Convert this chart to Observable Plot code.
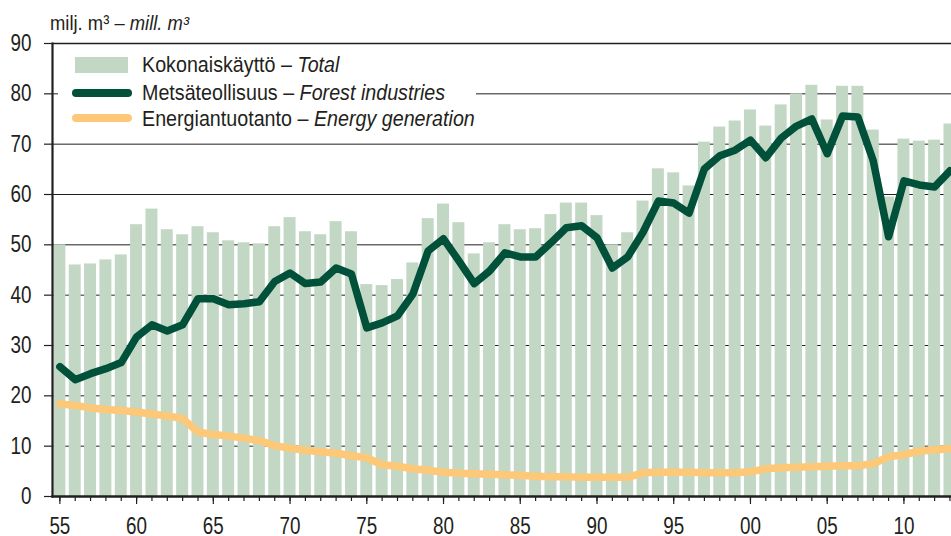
<!DOCTYPE html>
<html>
<head>
<meta charset="utf-8">
<script src="https://cdn.jsdelivr.net/npm/d3@7"></script>
<script src="https://cdn.jsdelivr.net/npm/@observablehq/plot@0.6"></script>
<style>
  body { margin: 0; background: #fff; }
  #wrap { position: relative; width: 951px; height: 536px; overflow: hidden;
          font-family: "Liberation Sans", Arial, sans-serif; color: #231f20; }
  #chart { position: absolute; left: 0; top: 0; }
  #title { position: absolute; left: 50px; top: 13px; font-size: 20px; line-height: 20px; white-space: nowrap;
           transform: scaleX(0.92); transform-origin: 0 50%; }
  #legendbox { position: absolute; left: 58px; top: 50px; width: 418px; height: 86px; background: #fff; }
  .sw { position: absolute; }
  .lt { position: absolute; left: 142px; font-size: 22px; line-height: 22px; white-space: nowrap;
        transform: scaleX(0.895); transform-origin: 0 50%; }
</style>
</head>
<body>
<div id="wrap">
  <div id="chart"></div>
  <div id="title"></div>
  <div id="legendbox"></div>
  <div id="legend"></div>
</div>
<script>
// ---- data ----
const years = [1955,1956,1957,1958,1959,1960,1961,1962,1963,1964,1965,1966,1967,1968,1969,1970,
  1971,1972,1973,1974,1975,1976,1977,1978,1979,1980,1981,1982,1983,1984,1985,1986,1987,1988,1989,1990,
  1991,1992,1993,1994,1995,1996,1997,1998,1999,2000,2001,2002,2003,2004,2005,2006,2007,2008,2009,2010,
  2011,2012,2013];
const total = [50.0,46.0,46.2,47.0,48.0,54.0,57.1,53.0,52.0,53.6,52.4,50.8,50.4,50.2,53.6,55.4,
  52.6,52.0,54.6,52.6,42.1,41.9,43.1,46.4,55.2,58.1,54.4,48.2,50.4,54.0,53.0,53.2,56.0,58.3,58.3,55.8,
  50.0,52.4,58.7,65.1,64.3,61.7,70.4,73.4,74.6,76.8,73.6,77.8,80.0,81.7,74.8,81.5,81.5,72.8,59.5,71.0,
  70.6,70.8,74.0];
const forest = [25.8,23.2,24.4,25.4,26.6,31.7,34.1,32.9,34.1,39.3,39.3,38.1,38.3,38.7,42.7,44.4,
  42.3,42.6,45.4,44.2,33.5,34.5,35.9,40.2,48.8,51.2,46.8,42.3,44.8,48.4,47.6,47.6,50.4,53.4,53.8,51.4,
  45.4,47.6,52.5,58.7,58.3,56.3,65.1,67.7,68.8,70.8,67.3,71.2,73.6,75.0,68.1,75.6,75.4,66.7,51.6,62.7,
  61.9,61.5,64.7];
const energy = [18.4,18.1,17.6,17.3,17.1,16.8,16.4,16.0,15.5,12.8,12.3,12.0,11.6,11.1,10.1,9.6,
  9.2,8.9,8.6,8.1,7.7,6.3,6.0,5.5,5.2,4.8,4.6,4.5,4.4,4.3,4.2,4.0,3.9,3.9,3.8,3.8,
  3.8,3.8,4.7,4.8,4.8,4.8,4.7,4.7,4.7,4.9,5.5,5.7,5.8,5.9,6.0,6.1,6.1,6.5,7.9,8.3,
  9.0,9.3,9.5];
const majorYears = [1955,1960,1965,1970,1975,1980,1985,1990,1995,2000,2005,2010];
const yTicks = [0,10,20,30,40,50,60,70,80,90];
const gridValues = [10,20,30,40,50,60,70,80];
const titleFi = "milj. m³ – ";
const titleEn = "mill. m³";
const seriesFi = ["Kokonaiskäyttö", "Metsäteollisuus", "Energiantuotanto"];
const seriesEn = ["Total", "Forest industries", "Energy generation"];
const colors = { total: "#c2d7c4", forest: "#00503a", energy: "#fdc878", ink: "#231f20" };

const data = years.map((year, i) => ({ year, total: total[i], forest: forest[i], energy: energy[i] }));
const font = '"Liberation Sans", Arial, sans-serif';

const chart = Plot.plot({
  width: 951,
  height: 536,
  marginLeft: 52,
  marginRight: 0,
  marginTop: 43,
  marginBottom: 40,
  x: { domain: [1954.52, 2013.1], axis: null },
  y: { domain: [0, 90], axis: null },
  style: { fontFamily: font, fontSize: "23px", color: colors.ink, background: "transparent", overflow: "visible" },
  marks: [
    Plot.ruleY(gridValues, { stroke: colors.ink, strokeWidth: 1 }),
    Plot.rectY(data, { x1: d => d.year - 0.39, x2: d => d.year + 0.39, y: "total", fill: colors.total, clip: true }),
    Plot.line(data, { x: "year", y: "energy", stroke: colors.energy, strokeWidth: 7.5,
      strokeLinejoin: "round", strokeLinecap: "round", clip: true }),
    Plot.line(data, { x: "year", y: "forest", stroke: colors.forest, strokeWidth: 7.5,
      strokeLinejoin: "round", strokeLinecap: "round", clip: true }),
    Plot.frame({ anchor: "top", stroke: colors.ink, strokeWidth: 1.5 }),
    Plot.frame({ anchor: "left", stroke: colors.ink, strokeWidth: 2.2 }),
    Plot.frame({ anchor: "bottom", stroke: colors.ink, strokeWidth: 2.5 }),
    Plot.axisY({ ticks: yTicks, tickSize: 8, tickPadding: 13, strokeWidth: 1.2, fontSize: 23, label: null }),
    Plot.axisX({ ticks: years, tickSize: 5, tickFormat: () => "", strokeWidth: 1.2, label: null }),
    Plot.axisX({ ticks: majorYears, tickSize: 8, tickPadding: 13, strokeWidth: 1.2, fontSize: 23, label: null,
      tickFormat: d => String(d % 100).padStart(2, "0") })
  ]
});
// narrow the tick labels (the reference uses a condensed face): scale about each label's anchor
chart.querySelectorAll('g[aria-label$="tick label"] text').forEach(t => {
  const tr = t.getAttribute("transform");
  if (tr) {
    t.setAttribute("transform", `${tr} scale(0.82,1)`);
  } else {
    const x = parseFloat(t.getAttribute("x")) || 0;
    const y = parseFloat(t.getAttribute("y")) || 0;
    if (!isNaN(+t.getAttribute("x"))) t.removeAttribute("x");
    if (!isNaN(+t.getAttribute("y"))) t.removeAttribute("y");
    t.setAttribute("transform", `translate(${x},${y}) scale(0.82,1)`);
  }
});
document.getElementById("chart").appendChild(chart);

// title
const t = document.getElementById("title");
t.append(titleFi);
const ti = document.createElement("i"); ti.textContent = titleEn; t.append(ti);

// legend
const legend = document.getElementById("legend");
const swatches = [
  { left: 75, top: 57, width: 53, height: 16, bg: colors.total, radius: 0 },
  { left: 72, top: 89, width: 60, height: 8, bg: colors.forest, radius: 4 },
  { left: 72, top: 114, width: 60, height: 8, bg: colors.energy, radius: 4 }
];
const textTops = [54.4, 82.4, 108.4];
seriesFi.forEach((name, i) => {
  const s = swatches[i];
  const sw = document.createElement("div");
  sw.className = "sw";
  Object.assign(sw.style, { left: s.left + "px", top: s.top + "px", width: s.width + "px",
    height: s.height + "px", background: s.bg, borderRadius: s.radius + "px" });
  legend.appendChild(sw);
  const lt = document.createElement("div");
  lt.className = "lt";
  lt.style.top = textTops[i] + "px";
  lt.append(name + " – ");
  const it = document.createElement("i"); it.textContent = seriesEn[i]; lt.append(it);
  legend.appendChild(lt);
});
</script>
</body>
</html>
